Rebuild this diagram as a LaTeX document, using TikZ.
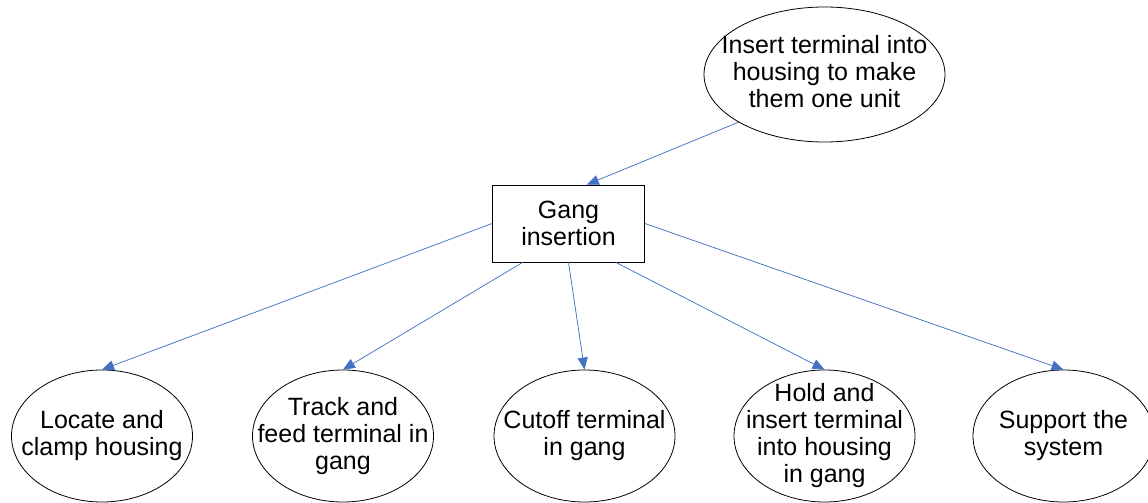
\documentclass[tikz,border=0pt]{standalone}
\usepackage{fontspec}
\setmainfont{Liberation Sans}
\usetikzlibrary{shapes.geometric,arrows.meta,calc}
\definecolor{connblue}{HTML}{4472C4}
\begin{document}
\begin{tikzpicture}[x=1pt,y=-1pt,
  txt/.style={font=\fontsize{25}{27}\selectfont, align=center, inner sep=0pt},
  ell/.style={draw, ellipse, line width=0.8pt, inner sep=0pt, minimum width=181pt, minimum height=132pt},
  topell/.style={ell, minimum width=241pt, minimum height=135pt},
  box/.style={draw, rectangle, line width=0.8pt, minimum width=152pt, minimum height=77pt, txt},
  arr/.style={draw=connblue, line width=0.75pt, -{Triangle[length=12pt,width=10pt]}}
]
\useasboundingbox (0,0) rectangle (1148,503);
\node[topell, label={[txt, yshift=3pt]center:{Insert terminal into\\housing to make\\them one unit}}] (top) at (824.5,74.5) {};
\node[box] (g) at (568.5,223.5) {Gang\\insertion};
\node[ell, label={[txt]center:{Locate and\\clamp housing}}] (e1) at (102,436) {};
\node[ell, label={[txt]center:{Track and\\feed terminal in\\gang}}] (e2) at (343,436) {};
\node[ell, label={[txt]center:{Cutoff terminal\\in gang}}] (e3) at (584.5,436) {};
\node[ell, label={[txt]center:{Hold and\\insert terminal\\into housing\\in gang}}] (e4) at (824.5,436) {};
\node[ell, label={[txt]center:{Support the\\system}}] (e5) at (1063.5,436) {};
\draw[arr] (top.209.3) -- ($(g.north west)!0.62!(g.north east)$);
\draw[arr] (g.west) -- (e1.north);
\draw[arr] ($(g.south west)!0.2!(g.south east)$) -- (e2.north);
\draw[arr] (g.south) -- (e3.north);
\draw[arr] ($(g.south west)!0.81!(g.south east)$) -- (e4.north);
\draw[arr] (g.east) -- (e5.north);
\end{tikzpicture}
\end{document}
